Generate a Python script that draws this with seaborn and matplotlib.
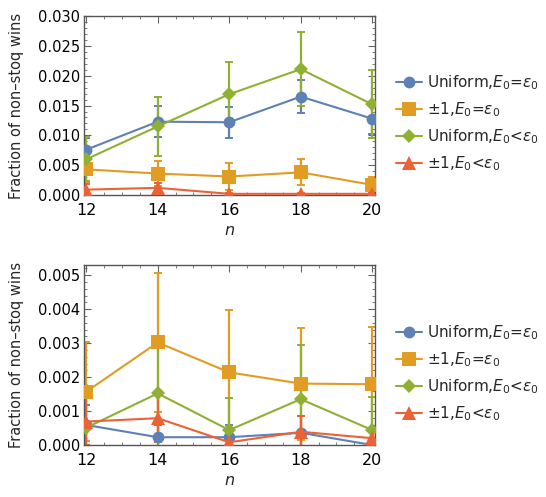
import pandas as pd
import matplotlib
matplotlib.use("Agg")
import matplotlib.pyplot as plt
import seaborn as sns
from matplotlib.lines import Line2D
from matplotlib.ticker import MultipleLocator

# ---------------------------------------------------------------------------
# Data
# ---------------------------------------------------------------------------
n_values = [12, 14, 16, 18, 20]
series_labels = [
    r"Uniform,$E_0$=$\varepsilon_0$",
    r"$\pm$1,$E_0$=$\varepsilon_0$",
    r"Uniform,$E_0$<$\varepsilon_0$",
    r"$\pm$1,$E_0$<$\varepsilon_0$",
]

# top panel
top_uniform_eq = [0.0076, 0.0123, 0.0122, 0.0165, 0.0128]
top_uniform_eq_err = [0.0019, 0.0026, 0.0026, 0.0028, 0.0026]
top_pm1_eq = [0.0043, 0.0036, 0.0031, 0.0038, 0.0017]
top_pm1_eq_err = [0.0022, 0.0021, 0.0022, 0.0022, 0.0014]
top_uniform_lt = [0.0060, 0.0115, 0.0169, 0.0211, 0.0152]
top_uniform_lt_err = [0.0037, 0.0049, 0.0054, 0.0062, 0.0057]
top_pm1_lt = [0.0009, 0.0012, 0.0002, 0.0002, 0.0002]
top_pm1_lt_err = [0.0009, 0.0008, 0.0002, 0.0002, 0.0002]

# bottom panel
bot_uniform_eq = [0.00059, 0.00023, 0.00023, 0.00036, 0.0]
bot_uniform_eq_err = [0.0006, 0.00036, 0.00036, 0.0005, 0.0]
bot_pm1_eq = [0.00157, 0.00302, 0.00214, 0.00181, 0.00179]
bot_pm1_eq_err = [0.00145, 0.00205, 0.00185, 0.00165, 0.0017]
bot_uniform_lt = [0.00051, 0.00152, 0.00044, 0.00135, 0.00044]
bot_uniform_lt_err = [0.0009, 0.0017, 0.00094, 0.0016, 0.00097]
bot_pm1_lt = [0.00069, 0.00079, 0.00008, 0.00039, 0.0002]
bot_pm1_lt_err = [0.0007, 0.0007, 0.0001, 0.00045, 0.0003]

colors = ["#5E81B5", "#E19C24", "#8FB032", "#EB6235"]
markers = ["o", "s", "D", "^"]
msizes = [8.5, 9.5, 7.5, 9.5]


def to_frame(vals, errs):
    rows = []
    for lab, v, e in zip(series_labels, vals, errs):
        for n, y, dy in zip(n_values, v, e):
            rows.append({"n": n, "frac": y, "err": dy, "series": lab})
    return pd.DataFrame(rows)


top_df = to_frame(
    [top_uniform_eq, top_pm1_eq, top_uniform_lt, top_pm1_lt],
    [top_uniform_eq_err, top_pm1_eq_err, top_uniform_lt_err, top_pm1_lt_err],
)
bot_df = to_frame(
    [bot_uniform_eq, bot_pm1_eq, bot_uniform_lt, bot_pm1_lt],
    [bot_uniform_eq_err, bot_pm1_eq_err, bot_uniform_lt_err, bot_pm1_lt_err],
)

sns.set_style("ticks")
plt.rcParams["font.family"] = ["DejaVu Sans"]
plt.rcParams["mathtext.fontset"] = "dejavusans"
plt.rcParams["xtick.direction"] = "in"
plt.rcParams["ytick.direction"] = "in"

fig = plt.figure(figsize=(5.46, 4.97), dpi=100)
ax_top = fig.add_axes([0.154, 0.6076, 0.533, 0.360])
ax_bot = fig.add_axes([0.154, 0.1046, 0.533, 0.362])

palette = dict(zip(series_labels, colors))


def draw_panel(ax, df, ylim, major, minor, fmt):
    for lab, c, m, ms in zip(series_labels, colors, markers, msizes):
        sub = df[df["series"] == lab]
        ax.errorbar(sub["n"], sub["frac"], yerr=sub["err"], fmt="none",
                    ecolor=c, elinewidth=1.6, capsize=3, capthick=1.4,
                    zorder=2)
    sns.lineplot(data=df, x="n", y="frac", hue="series", style="series",
                 hue_order=series_labels, style_order=series_labels,
                 palette=palette, markers=dict(zip(series_labels, markers)),
                 dashes=False, linewidth=1.5, markersize=9,
                 markeredgewidth=0, legend=False, ax=ax, zorder=3)
    for line, ms in zip(ax.lines[-4:], msizes):
        line.set_markersize(ms)
    ax.set_xlim(11.94, 20.08)
    ax.set_ylim(*ylim)
    ax.xaxis.set_major_locator(MultipleLocator(2))
    ax.xaxis.set_minor_locator(MultipleLocator(0.5))
    ax.yaxis.set_major_locator(MultipleLocator(major))
    ax.yaxis.set_minor_locator(MultipleLocator(minor))
    ax.yaxis.set_major_formatter(plt.FormatStrFormatter(fmt))
    ax.tick_params(which="both", top=True, right=True, labeltop=False,
                   labelright=False, colors="#666666", labelcolor="black",
                   labelsize=10.5, pad=3)
    ax.tick_params(axis="x", which="major", labelsize=11.5, pad=6)
    ax.tick_params(which="major", length=5, width=0.8)
    ax.tick_params(which="minor", length=2.5, width=0.6)
    for sp in ax.spines.values():
        sp.set_color("#555555")
        sp.set_linewidth(1.0)
    ax.set_xlabel("n", fontsize=11.5, fontstyle="italic", labelpad=3)
    ax.set_ylabel("Fraction of non\u2013stoq wins", fontsize=10.5,
                  labelpad=10)

    handles = [Line2D([], [], color=c, marker=m, markersize=ms,
                      markeredgewidth=0, linewidth=1.5)
               for c, m, ms in zip(colors, markers, msizes)]
    ax.legend(handles, series_labels, loc="center left",
              bbox_to_anchor=(1.05, 0.4), frameon=False, fontsize=11,
              handlelength=1.7, handletextpad=0.35, labelspacing=0.55,
              borderaxespad=0)


draw_panel(ax_top, top_df, (0, 0.030), 0.005, 0.001, "%.3f")
draw_panel(ax_bot, bot_df, (0, 0.0053), 0.001, 0.0002, "%.3f")

fig.savefig("out.png", dpi=100)
